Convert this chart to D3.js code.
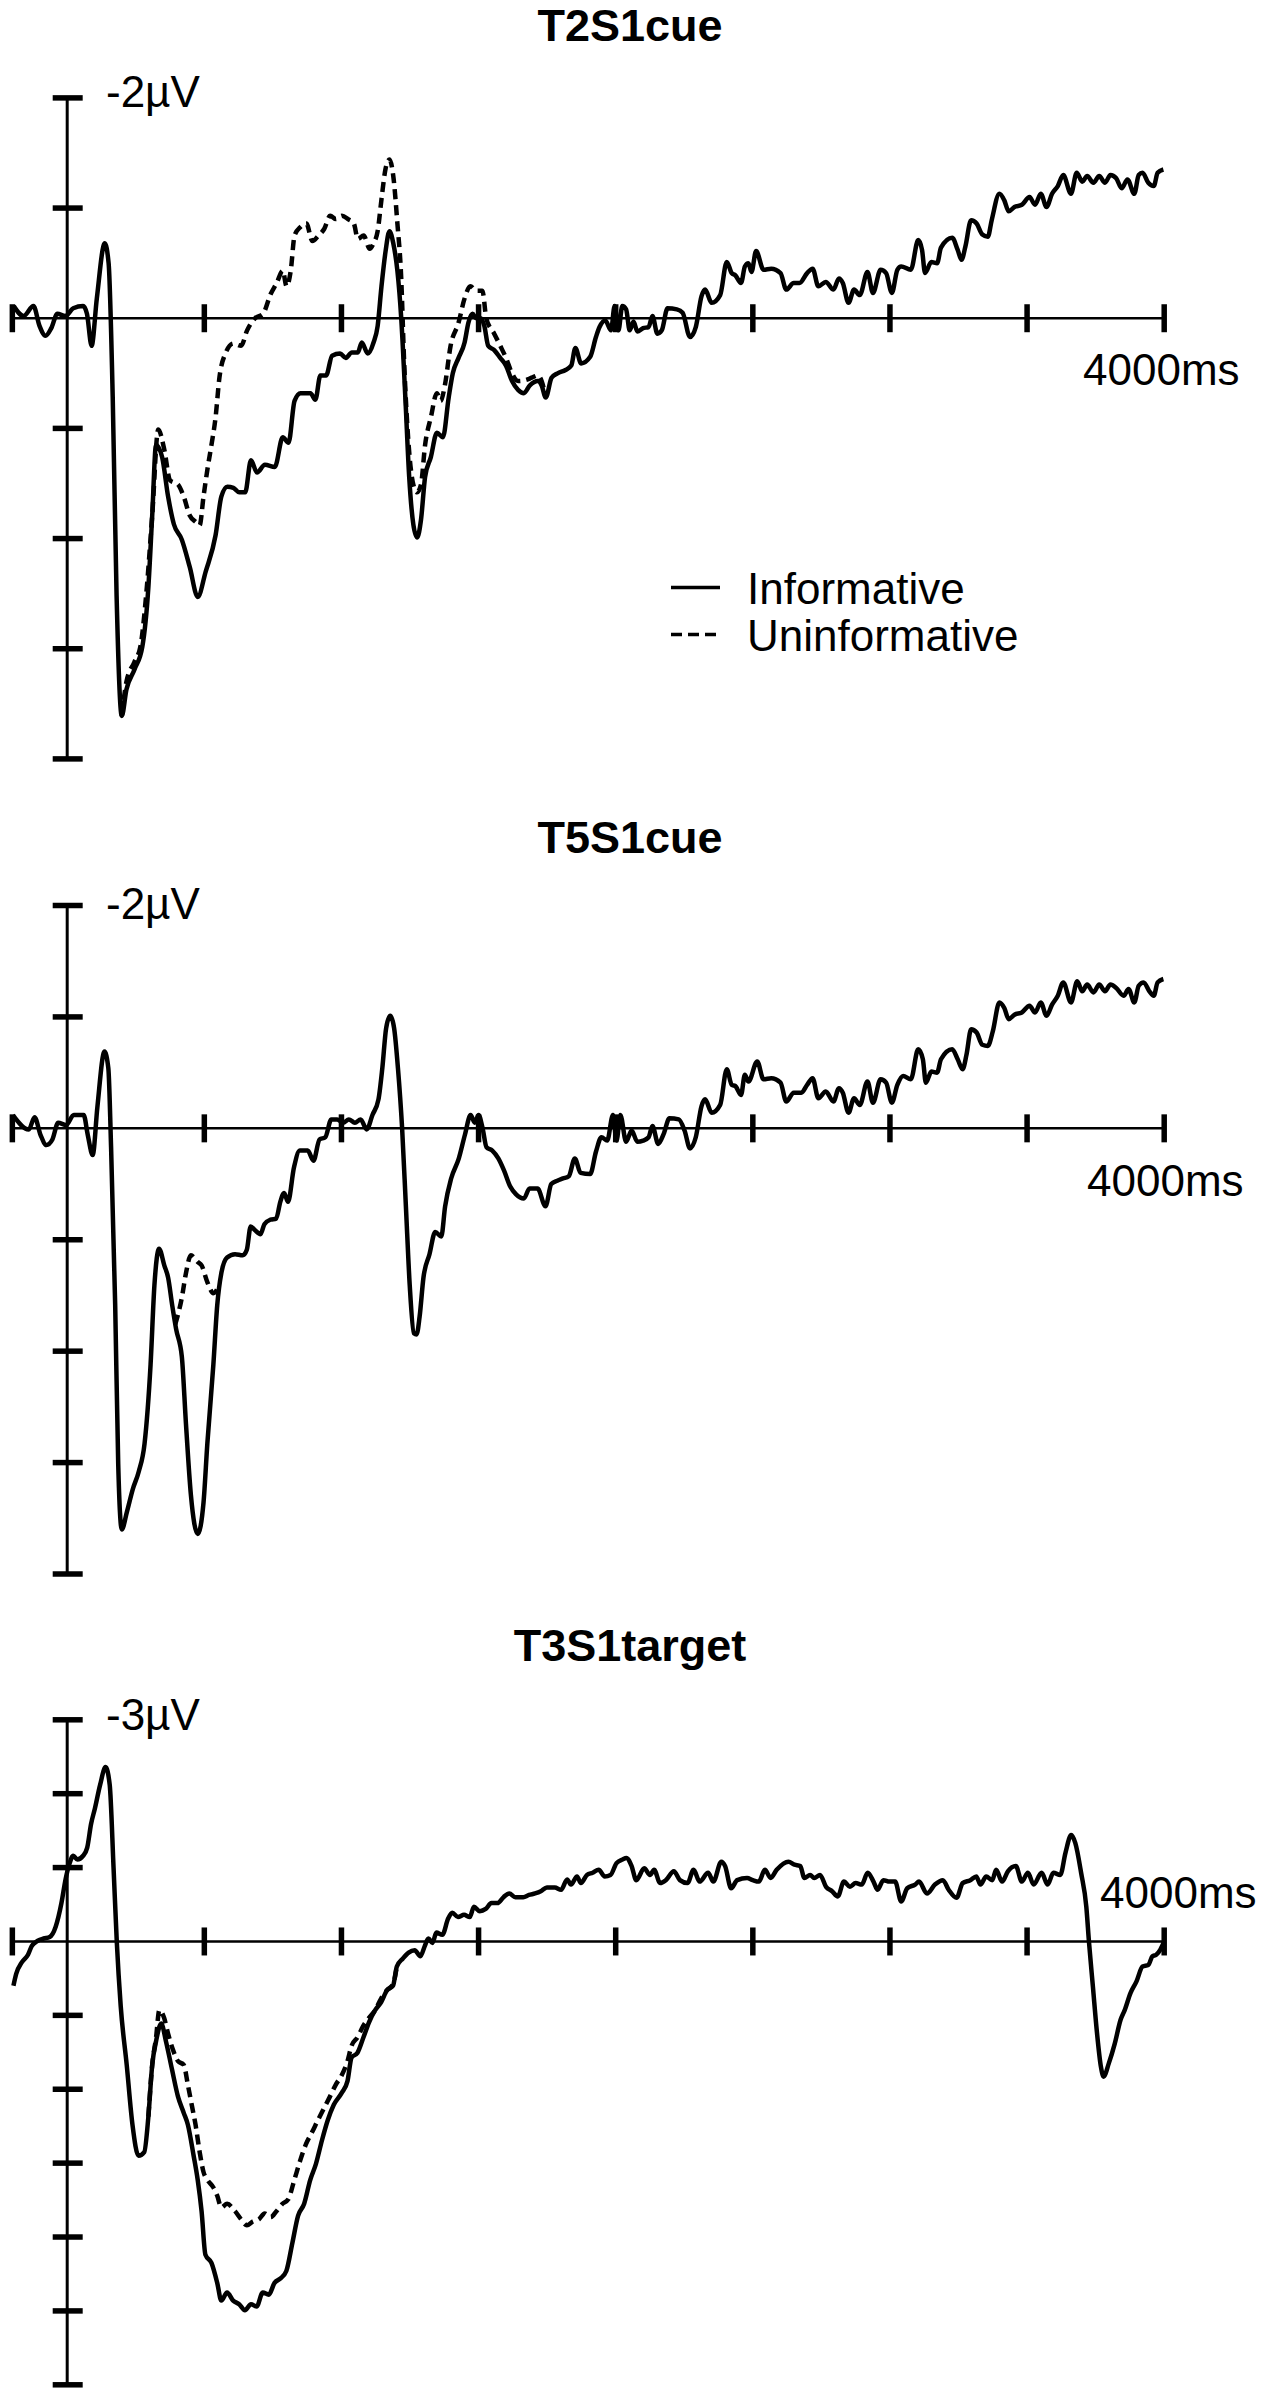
<!DOCTYPE html>
<html>
<head>
<meta charset="utf-8">
<script src="https://cdn.jsdelivr.net/npm/d3@7"></script>
<style>
	body { margin: 0; background: #fff; }
	svg { display: block; }
	text { font-family: "Liberation Sans", Arial, sans-serif; fill: #000; }
</style>
</head>
<body>
<svg id="chart" width="1267" height="2399"></svg>
<script>

// panel texts and axes
var panelTitles = ["T2S1cue", "T5S1cue", "T3S1target"];
var topLabels = ["-2\u00b5V", "-2\u00b5V", "-3\u00b5V"];
var yDomains = [[-2, 4], [-2, 4], [-3, 6]];
var xTickValues = [-200, 500, 1000, 1500, 2000, 2500, 3000, 3500, 4000];
var xEndLabel = "4000ms";
var legendNames = ["Informative", "Uninformative"];

// T2S1cue - informative (solid)
var p1SolidT = [-195,-159,-123,-101,-79,-58,-36,-7,22,58,72,89,108,137,151,166,180,199,216,245,274,296,310,324,346,368,389,418,447,476,505,541,562,584,606,627,649,670,692,721,757,786,807,829,851,887,905,923,944,966,995,1016,1038,1060,1074,1096,1117,1132,1146,1161,1175,1189,1204,1218,1233,1247,1262,1276,1290,1305,1326,1348,1370,1391,1406,1427,1449,1463,1478,1492,1507,1521,1535,1557,1579,1600,1622,1644,1665,1687,1716,1730,1745,1766,1788,1817,1838,1853,1874,1907,1928,1941,1962,1983,1996,2010,2024,2038,2051,2065,2079,2100,2120,2134,2152,2168,2189,2223,2244,2271,2292,2313,2326,2350,2381,2405,2423,2436,2457,2471,2484,2495,2512,2539,2567,2601,2622,2649,2670,2698,2718,2739,2766,2794,2814,2828,2849,2869,2890,2918,2938,2966,2986,3007,3027,3041,3076,3103,3117,3128,3151,3172,3186,3227,3247,3261,3275,3296,3316,3337,3357,3371,3399,3417,3433,3454,3481,3509,3529,3550,3571,3591,3612,3632,3660,3681,3701,3719,3742,3763,3784,3804,3825,3845,3866,3891,3907,3921,3942,3962,3976,3997];
var p1SolidV = [-0.11,-0.02,-0.11,0.07,0.16,0.09,-0.04,-0.02,-0.09,-0.11,-0.04,0.25,-0.18,-0.68,-0.50,0.72,2.51,3.61,3.37,3.19,2.98,2.44,1.79,1.15,1.26,1.62,1.87,2.01,2.26,2.53,2.30,1.97,1.62,1.53,1.54,1.58,1.58,1.29,1.40,1.33,1.35,1.08,1.13,0.75,0.68,0.68,0.74,0.52,0.52,0.34,0.32,0.36,0.31,0.31,0.22,0.32,0.22,0.07,-0.29,-0.61,-0.79,-0.68,-0.43,0,0.72,1.44,1.87,1.99,1.83,1.44,1.26,1.04,1.08,0.72,0.50,0.36,0.22,0.04,-0.04,0,0,0.07,0.25,0.29,0.36,0.43,0.57,0.65,0.68,0.61,0.57,0.61,0.72,0.54,0.50,0.47,0.43,0.27,0.41,0.35,0.17,0.08,0.02,0.11,-0.11,0.11,-0.11,-0.08,0.11,0.03,0.12,0.09,0.08,-0.02,0.14,0.11,-0.09,-0.08,-0.05,0.17,0.08,-0.20,-0.26,-0.14,-0.21,-0.51,-0.41,-0.39,-0.32,-0.47,-0.50,-0.42,-0.61,-0.44,-0.45,-0.41,-0.26,-0.32,-0.32,-0.41,-0.45,-0.29,-0.33,-0.26,-0.36,-0.32,-0.14,-0.26,-0.21,-0.42,-0.23,-0.44,-0.41,-0.23,-0.44,-0.47,-0.44,-0.71,-0.62,-0.41,-0.51,-0.50,-0.64,-0.73,-0.62,-0.53,-0.65,-0.89,-0.86,-0.76,-0.74,-0.89,-1.13,-1.07,-0.97,-1.01,-1.03,-1.10,-1.03,-1.13,-1.01,-1.13,-1.20,-1.30,-1.13,-1.32,-1.24,-1.29,-1.23,-1.29,-1.23,-1.30,-1.27,-1.18,-1.26,-1.13,-1.30,-1.32,-1.23,-1.20,-1.32,-1.35];

// T2S1cue - uninformative (dashed), only where it leaves the solid trace
var p1DashT = [199,216,245,267,288,310,332,353,375,404,425,447,469,483,497,512,526,541,555,577,606,634,656,685,714,742,764,786,800,815,829,851,872,894,916,937,959,980,1002,1024,1045,1060,1081,1103,1117,1132,1146,1161,1175,1189,1204,1218,1228,1243,1262,1276,1290,1305,1326,1348,1362,1377,1398,1427,1449,1470,1492,1514,1528,1557,1579,1600,1622,1644,1673,1694,1716,1737,1745];
var p1DashV = [3.61,3.30,3.12,2.98,2.51,1.79,1.01,1.18,1.47,1.51,1.62,1.79,1.85,1.88,1.62,1.36,1.15,0.90,0.54,0.32,0.23,0.25,0.11,0,-0.04,-0.22,-0.32,-0.43,-0.29,-0.43,-0.75,-0.83,-0.86,-0.70,-0.75,-0.81,-0.93,-0.90,-0.93,-0.90,-0.86,-0.72,-0.75,-0.63,-0.68,-0.79,-1.08,-1.36,-1.44,-1.29,-0.86,-0.36,0.36,1.08,1.51,1.58,1.51,1.15,0.90,0.68,0.75,0.61,0.25,0.04,-0.18,-0.29,-0.25,-0.25,0,0.14,0.25,0.36,0.50,0.57,0.56,0.54,0.52,0.63,0.72];

// T5S1cue - informative
var p2SolidT = [-198,-140,-119,-97,-76,-54,-33,-4,24,60,75,93,110,136,150,160,175,186,199,218,239,261,282,304,318,335,354,368,383,397,418,433,451,476,497,511,533,547,562,583,612,640,655,669,683,705,719,741,762,777,791,805,827,848,877,898,920,941,963,984,1006,1027,1049,1070,1092,1113,1135,1149,1163,1178,1192,1206,1221,1235,1249,1264,1274,1285,1299,1321,1342,1364,1378,1400,1428,1450,1471,1486,1500,1514,1529,1550,1572,1593,1615,1636,1665,1686,1715,1744,1765,1787,1808,1829,1851,1872,1907,1928,1948,1969,1990,2003,2017,2038,2058,2079,2100,2120,2134,2155,2175,2196,2230,2251,2271,2292,2313,2326,2350,2381,2405,2423,2436,2457,2471,2484,2516,2539,2567,2601,2622,2649,2677,2698,2718,2739,2766,2794,2814,2828,2849,2869,2890,2918,2938,2966,2986,3007,3027,3048,3076,3103,3120,3131,3151,3172,3186,3227,3247,3265,3279,3296,3316,3337,3357,3375,3399,3417,3433,3454,3481,3509,3529,3550,3571,3591,3612,3632,3660,3683,3701,3719,3742,3763,3784,3804,3825,3852,3870,3891,3907,3925,3946,3962,3976,3997];
var p2SolidV = [-0.12,0.01,-0.10,0.06,0.15,0.10,-0.05,-0.03,-0.12,-0.12,0.06,0.24,-0.19,-0.69,-0.54,0.17,1.59,3.01,3.60,3.44,3.24,3.08,2.83,2.12,1.41,1.08,1.23,1.34,1.59,1.80,2.05,2.65,3.29,3.64,3.36,2.83,2.12,1.59,1.30,1.16,1.13,1.14,1.09,0.88,0.91,0.95,0.86,0.82,0.81,0.66,0.58,0.66,0.35,0.20,0.20,0.29,0.10,0.08,-0.08,-0.08,-0.05,-0.08,-0.05,-0.08,0.01,-0.12,-0.26,-0.54,-0.90,-1.01,-0.90,-0.54,-0.01,0.70,1.41,1.84,1.85,1.69,1.34,1.13,0.93,0.97,0.70,0.45,0.27,0.06,-0.12,-0.05,-0.12,-0.01,0.17,0.20,0.27,0.38,0.52,0.59,0.63,0.54,0.54,0.70,0.50,0.47,0.45,0.43,0.27,0.40,0.41,0.21,0.08,0.11,-0.12,0.11,-0.12,0.12,0.02,0.12,0.11,0.08,-0.02,0.14,0.05,-0.09,-0.08,0.02,0.18,0.08,-0.20,-0.26,-0.14,-0.21,-0.53,-0.39,-0.38,-0.30,-0.48,-0.42,-0.60,-0.44,-0.45,-0.41,-0.24,-0.32,-0.32,-0.39,-0.45,-0.27,-0.33,-0.24,-0.36,-0.32,-0.14,-0.27,-0.21,-0.42,-0.23,-0.44,-0.41,-0.23,-0.39,-0.47,-0.44,-0.71,-0.62,-0.41,-0.51,-0.50,-0.62,-0.71,-0.62,-0.53,-0.66,-0.89,-0.86,-0.75,-0.74,-0.87,-1.13,-1.08,-0.98,-1.02,-1.04,-1.10,-1.04,-1.13,-1.01,-1.11,-1.19,-1.31,-1.13,-1.32,-1.23,-1.29,-1.22,-1.29,-1.23,-1.29,-1.26,-1.19,-1.25,-1.13,-1.28,-1.31,-1.23,-1.19,-1.31,-1.34];

// T5S1cue - uninformative
var p2DashT = [394,418,433,451,476,490,511,533,555];
var p2DashV = [1.76,1.52,1.30,1.14,1.20,1.23,1.38,1.48,1.40];

// T3S1target - informative
var p3SolidT = [-196,-186,-165,-143,-129,-107,-86,-64,-42,-21,-6,8,22,37,58,73,87,101,120,140,155,169,181,195,217,238,260,281,296,310,324,343,360,382,404,425,440,461,476,490,504,526,547,562,583,605,627,648,670,691,713,735,756,778,799,821,842,864,886,907,929,950,972,1001,1022,1037,1058,1080,1101,1123,1145,1166,1188,1202,1224,1245,1267,1288,1303,1317,1332,1346,1368,1389,1404,1425,1447,1468,1483,1504,1526,1547,1569,1591,1612,1634,1663,1684,1706,1727,1749,1778,1801,1823,1837,1859,1873,1895,1916,1938,1960,1981,2003,2025,2039,2058,2075,2104,2125,2140,2162,2183,2212,2234,2262,2284,2306,2337,2356,2385,2399,2421,2443,2479,2500,2522,2544,2565,2587,2630,2652,2673,2688,2709,2724,2745,2767,2789,2810,2832,2854,2875,2897,2919,2940,2955,2976,2998,3019,3041,3063,3092,3106,3135,3164,3193,3214,3243,3265,3293,3315,3330,3351,3373,3387,3409,3430,3459,3481,3503,3524,3553,3575,3596,3621,3640,3661,3676,3697,3716,3726,3740,3755,3769,3779,3798,3820,3841,3856,3877,3899,3921,3942,3957,3971,3986,4000];
var p3SolidV = [0.60,0.44,0.28,0.18,0.06,-0.01,-0.04,-0.06,-0.20,-0.52,-0.84,-1.05,-1.16,-1.11,-1.16,-1.27,-1.59,-1.80,-2.12,-2.36,-2.12,-1.00,0.02,0.87,1.67,2.48,2.90,2.85,2.37,1.67,1.35,1.11,1.35,1.73,2.10,2.32,2.48,2.90,3.23,3.65,4.24,4.35,4.62,4.86,4.75,4.86,4.91,4.99,4.91,4.94,4.75,4.78,4.62,4.56,4.46,4.08,3.71,3.55,3.23,3.01,2.69,2.42,2.21,2.05,1.89,1.57,1.51,1.30,1.09,0.93,0.82,0.66,0.60,0.34,0.23,0.15,0.12,0.20,0.07,-0.04,0.02,-0.12,-0.09,-0.31,-0.39,-0.33,-0.36,-0.33,-0.47,-0.41,-0.44,-0.52,-0.52,-0.60,-0.65,-0.60,-0.60,-0.63,-0.65,-0.68,-0.73,-0.73,-0.70,-0.84,-0.77,-0.88,-0.79,-0.90,-0.93,-0.97,-0.88,-0.90,-1.06,-1.11,-1.13,-1.02,-0.83,-0.99,-0.90,-0.97,-0.79,-0.83,-0.95,-0.83,-0.79,-0.97,-0.81,-0.93,-0.81,-1.08,-1.02,-0.72,-0.83,-0.86,-0.83,-0.81,-0.97,-0.86,-0.97,-1.08,-1.04,-1.02,-0.86,-0.90,-0.86,-0.90,-0.74,-0.68,-0.61,-0.81,-0.74,-0.79,-0.77,-0.93,-0.81,-0.70,-0.83,-0.81,-0.81,-0.54,-0.72,-0.77,-0.81,-0.65,-0.77,-0.83,-0.70,-0.59,-0.79,-0.83,-0.88,-0.77,-0.88,-0.83,-0.97,-0.81,-0.95,-1.02,-0.81,-0.93,-0.77,-0.93,-0.77,-0.93,-0.90,-1.20,-1.44,-1.33,-0.93,-0.47,0.02,0.61,1.24,1.69,1.83,1.65,1.38,1.06,0.93,0.70,0.54,0.34,0.32,0.20,0.18,0.11,0];

// T3S1target - uninformative
var p3DashT = [296,310,324,336,353,368,385,404,425,440,454,468,483,497,512,533,547,562,583,612,634,655,677,699,720,742,763,785,806,828,850,871,893,914,936,958,979,1001,1022,1037,1058,1080,1101,1123,1145,1166,1188,1202];
var p3DashV = [2.37,1.67,1.30,0.93,1.03,1.25,1.46,1.62,1.67,1.94,2.21,2.48,2.85,3.12,3.23,3.33,3.44,3.60,3.55,3.65,3.76,3.84,3.79,3.76,3.68,3.73,3.65,3.55,3.49,3.23,2.96,2.74,2.58,2.42,2.26,2.10,1.94,1.81,1.62,1.41,1.30,1.14,1.03,0.93,0.77,0.66,0.58,0.34];

var solidSeries = [[p1SolidT, p1SolidV], [p2SolidT, p2SolidV], [p3SolidT, p3SolidV]];
var dashSeries = [[p1DashT, p1DashV], [p2DashT, p2DashV], [p3DashT, p3DashV]];

// layout of the three stacked panels (pixels)
var layout = [
	{ yRange: [97.9, 758.9], titleY: 41, labelY: 107, endX: 1083, endY: 385 },
	{ yRange: [905.5, 1574], titleY: 853, labelY: 918.5, endX: 1087, endY: 1196 },
	{ yRange: [1719.8, 2384.8], titleY: 1661, labelY: 1730, endX: 1100, endY: 1908 }
];

var svg = d3.select('#chart');
var x = d3.scaleLinear().domain([-200, 4000]).range([12.35, 1164.2]);

function drawPanel(i) {
	var lay = layout[i];
	var dom = yDomains[i];
	var y = d3.scaleLinear().domain(dom).range(lay.yRange);
	var g = svg.append('g');

	// title
	g.append('text')
		.attr('x', 630).attr('y', lay.titleY)
		.attr('text-anchor', 'middle')
		.style('font-size', '45px').style('font-weight', 'bold')
		.text(panelTitles[i]);

	// x axis line + ticks
	g.append('line')
		.attr('x1', x(-200)).attr('x2', x(4000))
		.attr('y1', y(0)).attr('y2', y(0))
		.style('stroke', '#000').style('stroke-width', 2.5);
	g.selectAll('.xt').data(xTickValues).enter().append('line')
		.attr('x1', function(d) { return x(d); })
		.attr('x2', function(d) { return x(d); })
		.attr('y1', y(0) - 14).attr('y2', y(0) + 14)
		.style('stroke', '#000').style('stroke-width', 5.5);

	// y axis line + ticks
	g.append('line')
		.attr('x1', x(0)).attr('x2', x(0))
		.attr('y1', y(dom[0])).attr('y2', y(dom[1]))
		.style('stroke', '#000').style('stroke-width', 3);
	var yt = d3.range(dom[0], dom[1] + 1).filter(function(d) { return d !== 0; });
	g.selectAll('.yt').data(yt).enter().append('line')
		.attr('x1', x(0) - 14.5).attr('x2', x(0) + 15.5)
		.attr('y1', function(d) { return y(d); })
		.attr('y2', function(d) { return y(d); })
		.style('stroke', '#000').style('stroke-width', 5.5);

	// axis labels
	g.append('text')
		.attr('x', 106).attr('y', lay.labelY)
		.style('font-size', '44px')
		.text(topLabels[i]);
	g.append('text')
		.attr('x', lay.endX).attr('y', lay.endY)
		.style('font-size', '44px')
		.text(xEndLabel);

	var line = d3.line()
		.x(function(d) { return x(d[0]); })
		.y(function(d) { return y(d[1]); })
		.curve(d3.curveMonotoneX);

	g.append('path')
		.datum(d3.zip(dashSeries[i][0], dashSeries[i][1]))
		.attr('d', line)
		.style('fill', 'none').style('stroke', '#000')
		.style('stroke-width', 4.5).style('stroke-dasharray', '10,6');

	g.append('path')
		.datum(d3.zip(solidSeries[i][0], solidSeries[i][1]))
		.attr('d', line)
		.style('fill', 'none').style('stroke', '#000')
		.style('stroke-width', 4.5).style('stroke-linejoin', 'round');
}

for (var i = 0; i < 3; i++) drawPanel(i);

// legend (first panel only)
var leg = svg.append('g');
leg.selectAll('line').data(legendNames).enter().append('line')
	.attr('x1', 671).attr('x2', function(d, i) { return i ? 716 : 720; })
	.attr('y1', function(d, i) { return 587.5 + i * 47; })
	.attr('y2', function(d, i) { return 587.5 + i * 47; })
	.style('stroke', '#000').style('stroke-width', 3.5)
	.style('stroke-dasharray', function(d, i) { return i ? '11,6' : null; });
leg.selectAll('text').data(legendNames).enter().append('text')
	.attr('x', 747)
	.attr('y', function(d, i) { return 604 + i * 47; })
	.style('font-size', '44px')
	.text(function(d) { return d; });

</script>
</body>
</html>
